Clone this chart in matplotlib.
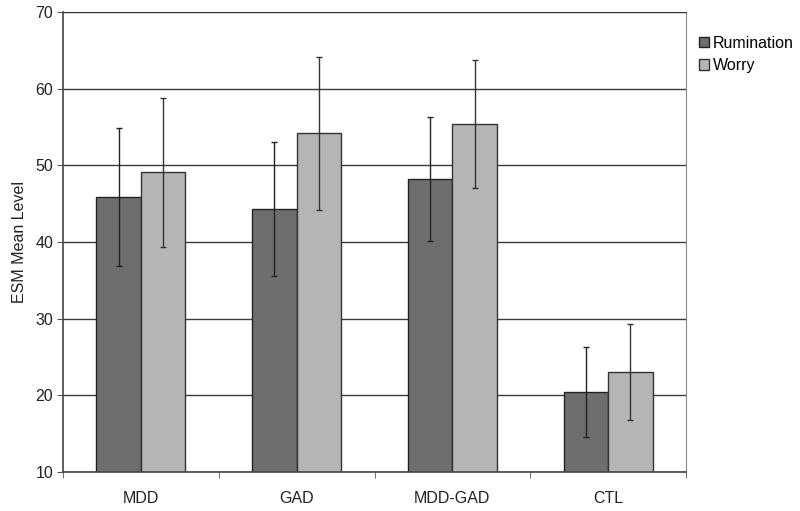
import matplotlib
matplotlib.use("Agg")
import matplotlib.pyplot as plt
import numpy as np

categories = ["MDD", "GAD", "MDD-GAD", "CTL"]
rumination = [45.9, 44.3, 48.2, 20.4]
rumination_err = [9.0, 8.7, 8.1, 5.9]
worry = [49.1, 54.2, 55.4, 23.0]
worry_err = [9.7, 10.0, 8.4, 6.25]
yticks = [10, 20, 30, 40, 50, 60, 70]

plt.rcParams['font.family'] = ['Liberation Sans', 'DejaVu Sans']

fig = plt.figure(figsize=(8, 5.11), dpi=100)
ax = fig.add_axes([63/800, 1-471.7/511, (686-63)/800, (471.7-12.3)/511])

x = np.arange(len(categories))
w = 0.285
ax.set_axisbelow(True)
ax.yaxis.grid(True, color='#3a3a3a', linewidth=1.0)
ax.bar(x - w/2, rumination, w, bottom=0, color='#6e6e6e', edgecolor='#222222', linewidth=1.0, label='Rumination', zorder=2)
ax.bar(x + w/2, worry, w, color='#b5b5b5', edgecolor='#333333', linewidth=1.0, label='Worry', zorder=2)
ax.errorbar(x - w/2, rumination, yerr=rumination_err, fmt='none', ecolor='#222222', elinewidth=1.0, capsize=2.5, capthick=1.0, zorder=3)
ax.errorbar(x + w/2, worry, yerr=worry_err, fmt='none', ecolor='#333333', elinewidth=1.0, capsize=2.5, capthick=1.0, zorder=3)

ax.set_ylim(10, 70)
ax.set_xlim(-0.5, len(categories) - 0.5)
ax.set_yticks(yticks)
ax.set_xticks(x)
ax.set_xticklabels(categories)
ax.set_xticks(np.arange(-0.5, len(categories)), minor=True)
ax.tick_params(axis='x', which='major', length=0, pad=14, labelsize=11.5, colors='#222222')
ax.tick_params(axis='x', which='minor', length=4, color='#555555', direction='out')
ax.tick_params(axis='y', length=4, color='#555555', labelsize=11.5, labelcolor='#222222', pad=3)
ax.set_ylabel('ESM Mean Level', fontsize=11.5, color='#222222', labelpad=6)
for s in ['left', 'bottom']:
    ax.spines[s].set_color('#444444')
    ax.spines[s].set_linewidth(1.2)
ax.spines['top'].set_color('#3a3a3a')
ax.spines['right'].set_color('#888888')

leg = ax.legend(loc='upper left', bbox_to_anchor=(1.005, 0.97), frameon=False, fontsize=11.5,
                handlelength=0.65, handleheight=0.65, handletextpad=0.25, labelspacing=0.45, borderaxespad=0.2)

fig.savefig('out.png', dpi=100)
